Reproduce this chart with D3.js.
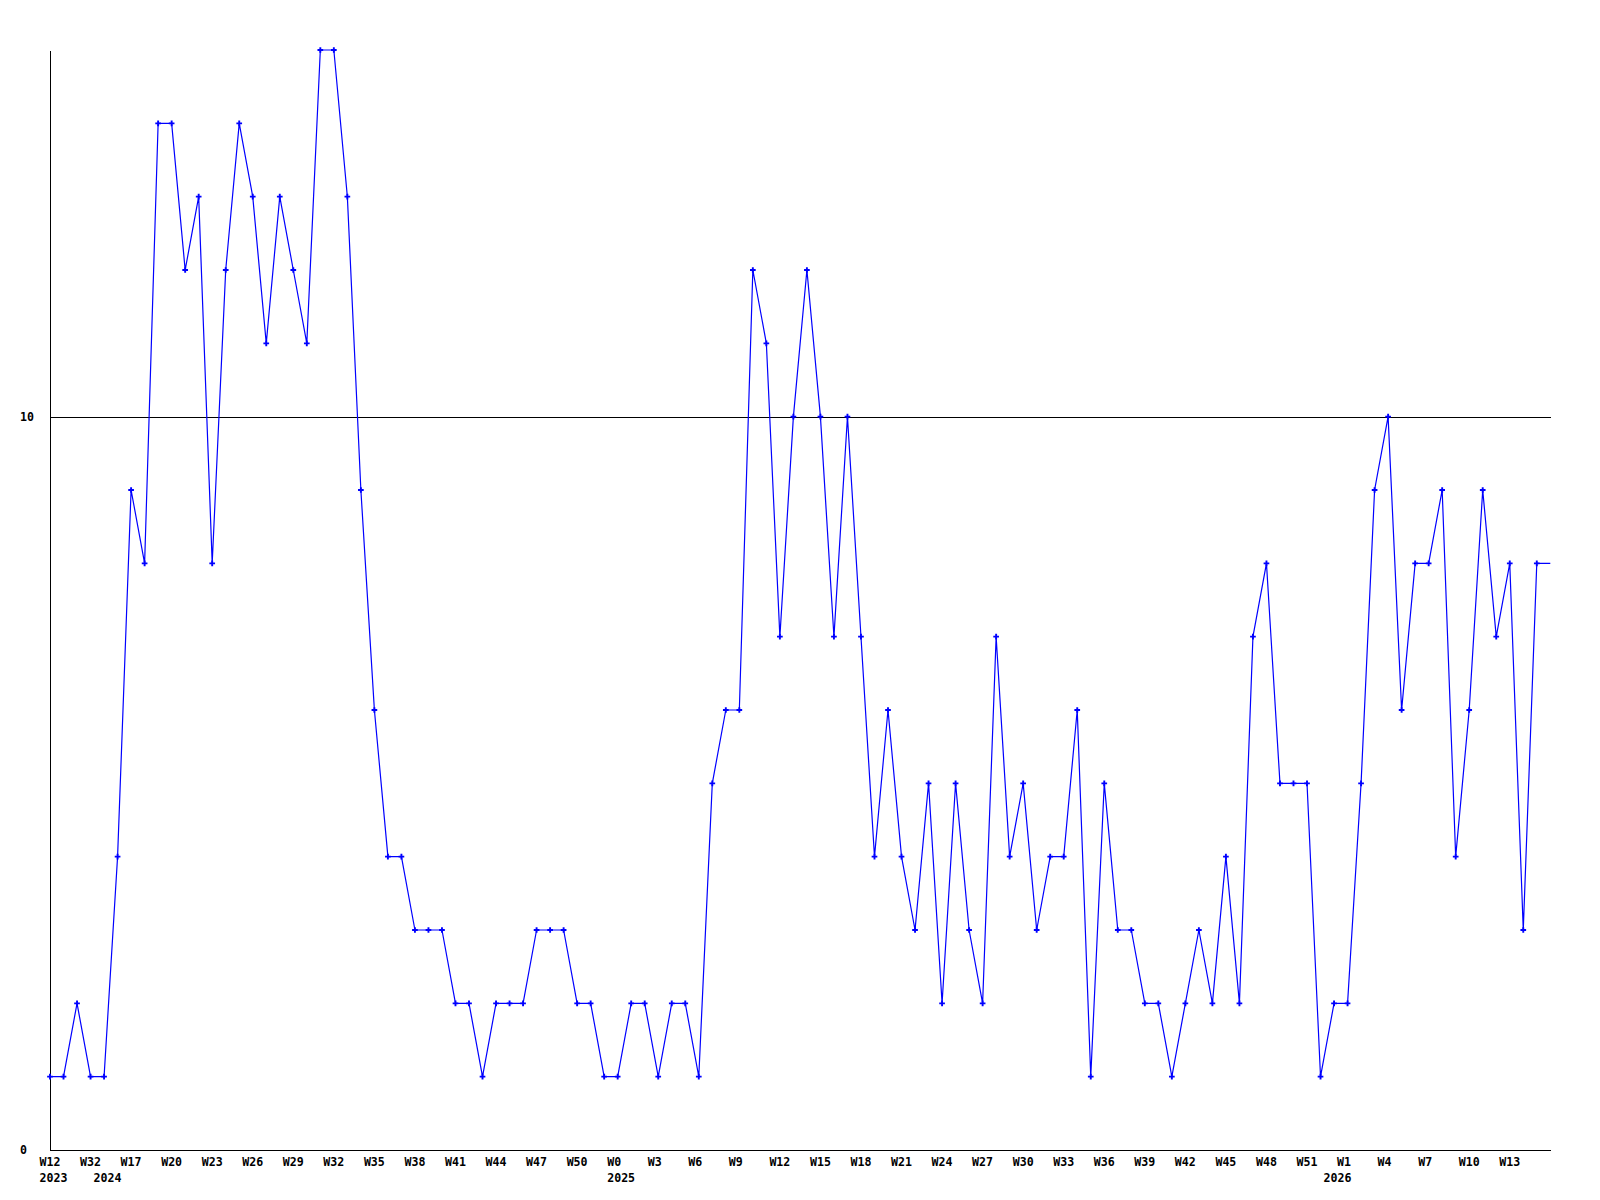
<!DOCTYPE html>
<html>
<head>
<meta charset="utf-8">
<script src="https://cdn.jsdelivr.net/npm/d3@7"></script>
<style>
  body { margin: 0; background: #fff; }
  text { font-family: 'DejaVu Sans Mono', monospace; font-weight: bold; font-size: 11.6px; fill: #000; }
</style>
</head>
<body>
<div id="chart"></div>
<script>
(function (d3) {

// one value per week, oldest first
var counts = [
  1, 1, 2, 1, 1, 4, 9, 8, 14, 14,
  12, 13, 8, 12, 14, 13, 11, 13, 12, 11,
  15, 15, 13, 9, 6, 4, 4, 3, 3, 3,
  2, 2, 1, 2, 2, 2, 3, 3, 3, 2,
  2, 1, 1, 2, 2, 1, 2, 2, 1, 5,
  6, 6, 12, 11, 7, 10, 12, 10, 7, 10,
  7, 4, 6, 4, 3, 5, 2, 5, 3, 2,
  7, 4, 5, 3, 4, 4, 6, 1, 5, 3,
  3, 2, 2, 1, 2, 3, 2, 4, 2, 7,
  8, 5, 5, 5, 1, 2, 2, 5, 9, 10,
  6, 8, 8, 9, 4, 6, 9, 7, 8, 3,
  8, 8
];

// week labels, every third point
var weekTicks = [0, 3, 6, 9, 12, 15, 18, 21, 24, 27, 30, 33, 36, 39, 42, 45, 48, 51,
  54, 57, 60, 63, 66, 69, 72, 75, 78, 81, 84, 87, 90, 93, 96, 99, 102, 105, 108];
var weekLabels = ['W12', 'W32', 'W17', 'W20', 'W23', 'W26', 'W29', 'W32', 'W35', 'W38',
  'W41', 'W44', 'W47', 'W50', 'W0', 'W3', 'W6', 'W9', 'W12', 'W15', 'W18', 'W21',
  'W24', 'W27', 'W30', 'W33', 'W36', 'W39', 'W42', 'W45', 'W48', 'W51', 'W1', 'W4',
  'W7', 'W10', 'W13'];

var yearTicks = [0, 4, 42, 95];
var yearLabels = ['2023', '2024', '2025', '2026'];

var yTicks = [0, 10];

var width = 1600;
var height = 1200;
var left = 50, right = 1550.3, top = 50, bottom = 1150;

var svg = d3.select('#chart')
    .append('svg')
    .attr('width', width)
    .attr('height', height);

var x = d3.scaleLinear()
    .domain([0, counts.length - 1])
    .range([left, right]);

var y = d3.scaleLinear()
    .domain([0, 15])
    .range([bottom, top]);

// y axis + the line at 10
var yAxis = svg.append('g')
    .attr('transform', 'translate(' + left + ',0)')
    .call(d3.axisLeft(y)
      .tickValues(yTicks)
      .tickSizeInner(-(right - left + 0.7))
      .tickSizeOuter(0)
      .tickFormat(d3.format('d')));

yAxis.select('.domain').attr('stroke', '#000').attr('shape-rendering', 'crispEdges');
yAxis.selectAll('.tick line').attr('stroke', '#000').attr('shape-rendering', 'crispEdges');
yAxis.selectAll('.tick text')
    .attr('x', -30)
    .attr('text-anchor', 'start')
    .attr('font-family', null)
    .attr('font-size', null);

// week labels
var xAxis = svg.append('g')
    .attr('transform', 'translate(0,' + bottom + ')')
    .call(d3.axisBottom(x)
      .tickValues(weekTicks)
      .tickSize(0)
      .tickFormat(function (d, i) { return weekLabels[i]; }));

xAxis.select('.domain').attr('stroke', '#000').attr('shape-rendering', 'crispEdges');
xAxis.selectAll('.tick text')
    .attr('x', -11)
    .attr('y', 16)
    .attr('dy', null)
    .attr('text-anchor', 'start')
    .attr('font-family', null)
    .attr('font-size', null);

// year labels
var yearAxis = svg.append('g')
    .attr('transform', 'translate(0,' + bottom + ')')
    .call(d3.axisBottom(x)
      .tickValues(yearTicks)
      .tickSize(0)
      .tickFormat(function (d, i) { return yearLabels[i]; }));

yearAxis.select('.domain').remove();
yearAxis.selectAll('.tick text')
    .attr('x', -11)
    .attr('y', 31.5)
    .attr('dy', null)
    .attr('text-anchor', 'start')
    .attr('font-family', null)
    .attr('font-size', null);

var line = d3.line()
    .x(function (d, i) { return x(i); })
    .y(function (d) { return y(d); });

svg.append('path')
    .datum(counts)
    .attr('d', line)
    .attr('fill', 'none')
    .attr('stroke', '#0000ff')
    .attr('stroke-width', 1.2);

// markers (last point sits on the right edge, no marker there)
var cross = d3.symbol().type(d3.symbolCross).size(18);

svg.selectAll('.marker')
    .data(counts.slice(0, counts.length - 1))
    .enter()
    .append('path')
    .attr('class', 'marker')
    .attr('d', cross)
    .attr('transform', function (d, i) { return 'translate(' + x(i) + ',' + y(d) + ')'; })
    .attr('fill', '#0000ff');

})(window.d3);
</script>
</body>
</html>
